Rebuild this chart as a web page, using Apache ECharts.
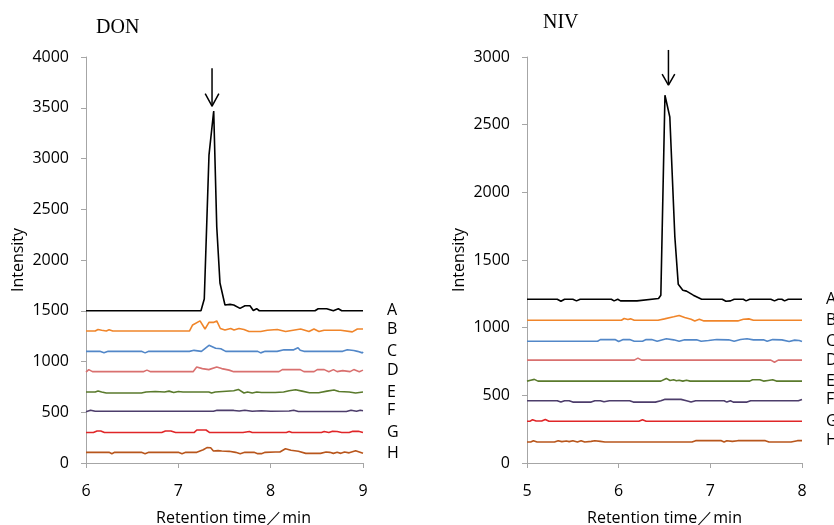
<!DOCTYPE html>
<html><head><meta charset="utf-8">
<script src="https://cdn.jsdelivr.net/npm/echarts@6.0.0/dist/echarts.min.js"></script>
<style>html,body{margin:0;padding:0;background:#fff}#c{width:834px;height:525px}</style>
</head><body><div id="c"></div><script>
// ---------- DATA ----------
const traceNames = ['A','B','C','D','E','F','G','H'];
const donXTicks = [6, 7, 8, 9];
const nivXTicks = [5, 6, 7, 8];

// DON panel: [retention time (min), intensity]
const donA = [[6,1500],[7.245,1500],[7.281,1615],[7.332,3034],[7.383,3468],[7.416,2328],[7.451,1773],[7.505,1557],[7.56,1563],[7.60,1556],[7.668,1523],[7.722,1549],[7.776,1549],[7.812,1503],[7.848,1520],[7.877,1500],[8.48,1500],[8.515,1520],[8.607,1520],[8.679,1500],[8.733,1520],[8.77,1500],[9,1500]];
const donB = [[6,1300],[6.1,1300],[6.13,1315],[6.17,1308],[6.22,1300],[6.25,1312],[6.29,1300],[7.12,1300],[7.155,1360],[7.235,1400],[7.289,1320],[7.332,1385],[7.379,1385],[7.416,1400],[7.455,1325],[7.505,1310],[7.567,1325],[7.603,1310],[7.657,1325],[7.711,1315],[7.765,1295],[7.892,1295],[7.964,1308],[8.072,1315],[8.162,1295],[8.325,1320],[8.415,1295],[8.469,1320],[8.523,1295],[8.578,1308],[8.758,1308],[8.884,1292],[8.939,1320],[9,1320]];
const donC = [[6,1100],[6.15,1100],[6.195,1085],[6.24,1100],[6.6,1100],[6.64,1085],[6.68,1100],[7.12,1100],[7.17,1110],[7.25,1100],[7.332,1160],[7.404,1130],[7.46,1125],[7.513,1100],[7.86,1100],[7.892,1085],[7.94,1100],[8.07,1100],[8.144,1115],[8.25,1115],[8.296,1135],[8.32,1110],[8.36,1100],[8.78,1100],[8.83,1115],[8.9,1108],[8.94,1100],[8.96,1112],[8.993,1085],[9,1095]];
const donD = [[6,895],[6.03,920],[6.07,900],[6.62,900],[6.66,915],[6.7,900],[7.16,900],[7.199,945],[7.26,930],[7.33,920],[7.416,945],[7.47,930],[7.55,915],[7.6,900],[8.09,900],[8.126,920],[8.32,920],[8.36,900],[8.47,900],[8.505,920],[8.58,920],[8.63,900],[8.68,920],[8.72,900],[8.78,910],[8.86,900],[8.9,920],[8.96,900],[9,915]];
const donE = [[6,700],[6.1,700],[6.13,710],[6.17,700],[6.22,690],[6.6,690],[6.65,700],[6.75,705],[6.85,700],[6.9,708],[6.95,695],[7.0,705],[7.05,700],[7.33,700],[7.36,690],[7.4,700],[7.6,712],[7.65,725],[7.711,690],[7.75,700],[7.8,690],[7.85,700],[7.9,695],[8.05,695],[8.14,700],[8.2,712],[8.27,722],[8.34,708],[8.42,692],[8.52,692],[8.61,708],[8.686,720],[8.74,705],[8.85,700],[8.92,690],[9,700]];
const donF = [[6,505],[6.05,520],[6.1,510],[7.38,510],[7.42,520],[7.6,518],[7.66,512],[7.72,520],[7.8,510],[7.9,515],[8.0,510],[8.2,512],[8.25,520],[8.3,508],[8.82,508],[8.87,520],[8.93,510],[8.97,520],[9,515]];
const donG = [[6,300],[6.08,300],[6.12,315],[6.16,315],[6.2,300],[6.82,300],[6.86,315],[6.92,315],[6.97,300],[7.17,300],[7.2,325],[7.3,325],[7.34,300],[7.7,300],[7.72,310],[7.77,310],[7.8,300],[8.17,300],[8.2,310],[8.23,300],[8.55,300],[8.58,310],[8.63,300],[8.67,312],[8.72,310],[8.77,300],[8.85,300],[8.89,312],[8.95,312],[9,300]];
const donH = [[6,105],[6.25,105],[6.28,92],[6.31,105],[6.6,105],[6.64,92],[6.68,105],[7.0,105],[7.04,92],[7.08,105],[7.2,105],[7.27,130],[7.31,152],[7.35,150],[7.38,118],[7.43,122],[7.47,118],[7.55,115],[7.62,105],[7.67,92],[7.72,105],[7.82,105],[7.86,92],[7.9,92],[7.94,105],[8.05,108],[8.1,108],[8.16,140],[8.22,125],[8.3,115],[8.38,95],[8.54,95],[8.6,108],[8.64,105],[8.68,95],[8.72,105],[8.76,95],[8.8,108],[8.85,100],[8.92,120],[8.96,108],[9,95]];

// NIV panel
const nivA = [[5,1210],[5.33,1210],[5.37,1195],[5.41,1210],[5.5,1210],[5.54,1198],[5.58,1210],[5.92,1210],[5.95,1198],[5.99,1210],[6.02,1198],[6.2,1198],[6.22,1210],[6.435,1215],[6.46,1240],[6.505,2717],[6.558,2557],[6.613,1670],[6.65,1320],[6.70,1276],[6.74,1270],[6.814,1240],[6.905,1210],[7.13,1210],[7.17,1195],[7.22,1198],[7.26,1210],[7.36,1210],[7.39,1198],[7.43,1210],[7.66,1210],[7.7,1198],[7.74,1210],[7.78,1210],[7.81,1198],[7.85,1210],[8,1210]];
const nivB = [[5,1055],[6.03,1055],[6.06,1068],[6.1,1060],[6.13,1065],[6.17,1055],[6.43,1055],[6.5,1065],[6.6,1080],[6.66,1090],[6.72,1075],[6.79,1062],[6.83,1050],[6.88,1062],[6.93,1050],[7.3,1050],[7.36,1062],[7.42,1065],[7.47,1055],[8,1055]];
const nivC = [[5,900],[5.77,900],[5.8,912],[5.96,912],[6.0,898],[6.05,912],[6.12,912],[6.17,900],[6.26,900],[6.3,912],[6.36,912],[6.42,900],[6.52,918],[6.6,910],[6.66,900],[6.72,910],[6.85,910],[6.9,900],[6.98,905],[7.07,912],[7.2,910],[7.26,900],[7.33,912],[7.4,918],[7.47,910],[7.58,910],[7.62,900],[7.68,912],[7.78,910],[7.86,898],[7.92,908],[7.97,905],[8,898]];
const nivD = [[5,760],[6.17,760],[6.21,775],[6.25,760],[7.66,760],[7.7,745],[7.74,760],[8,760]];
const nivE = [[5,605],[5.04,612],[5.08,618],[5.12,605],[6.46,605],[6.52,625],[6.56,610],[6.6,615],[6.63,608],[6.66,612],[6.7,605],[6.74,612],[6.78,605],[7.43,605],[7.46,615],[7.54,615],[7.58,605],[7.63,610],[7.68,615],[7.72,605],[8,605]];
const nivF = [[5,460],[5.33,460],[5.37,450],[5.41,460],[5.46,460],[5.5,450],[5.7,450],[5.74,460],[5.8,460],[5.84,452],[5.9,460],[6.12,460],[6.16,450],[6.4,450],[6.46,460],[6.5,470],[6.68,470],[6.74,460],[6.79,450],[6.84,460],[7.15,460],[7.18,450],[7.22,460],[7.25,450],[7.4,450],[7.44,460],[7.96,460],[8,470]];
const nivG = [[5,308],[5.03,308],[5.06,320],[5.1,310],[5.16,310],[5.2,322],[5.24,308],[6.22,308],[6.26,320],[6.3,308],[8,308]];
const nivH = [[5,155],[5.04,155],[5.07,165],[5.11,155],[5.3,155],[5.34,165],[5.38,158],[5.43,163],[5.46,158],[5.5,165],[5.55,155],[5.59,165],[5.63,155],[5.7,160],[5.74,165],[5.8,160],[5.85,155],[6.34,155],[6.36,165],[6.39,155],[6.8,155],[6.84,165],[7.12,165],[7.15,155],[7.18,165],[7.2,155],[7.24,160],[7.3,165],[7.6,165],[7.64,155],[7.88,155],[7.95,165],[8,165]];

// arrows: [time, tail intensity, tip intensity]
const donArrow = [7.365, 3890, 3515];
const nivArrow = [6.543, 3052, 2793];

// ---------- STYLE ----------
const colors = ['#000000','#f0852a','#5287c8','#d9706f','#5a7a2c','#4d3d6b','#e02628','#b8561c'];
const uiFont = '"Open Sans", "Noto Sans", sans-serif';
const uiSize = 16;
const axisGray = '#a6a6a6';

const donSeriesData = [donA, donB, donC, donD, donE, donF, donG, donH];
const nivSeriesData = [nivA, nivB, nivC, nivD, nivE, nivF, nivG, nivH];

function traceSeries(list, idx) {
  return list.map((d, i) => ({
    type: 'line', name: traceNames[i], xAxisIndex: idx, yAxisIndex: idx,
    data: d, symbol: 'none', silent: true, z: 10 - i,
    lineStyle: { color: colors[i], width: 1.6 },
    itemStyle: { color: colors[i] },
    endLabel: { show: true, formatter: traceNames[i], distance: 24,
      color: '#000', fontSize: uiSize, fontFamily: uiFont }
  }));
}
function arrowSeries(a, idx, dx, dy) {
  const st = { color: '#000', width: 1.5 };
  return [
    { type: 'line', xAxisIndex: idx, yAxisIndex: idx, symbol: 'none', silent: true, clip: false,
      data: [[a[0], a[1]], [a[0], a[2]]], lineStyle: st },
    { type: 'line', xAxisIndex: idx, yAxisIndex: idx, symbol: 'none', silent: true, clip: false,
      data: [[a[0] - dx, a[2] + dy], [a[0], a[2]], [a[0] + dx, a[2] + dy]], lineStyle: st }
  ];
}
function xAxisCfg(idx, ticks, namePad) {
  return { type: 'value', gridIndex: idx, min: ticks[0], max: ticks[ticks.length - 1], interval: 1,
    name: 'Retention time／min', nameLocation: 'middle', nameGap: 47,
    nameTextStyle: { fontSize: uiSize, fontFamily: uiFont, color: '#000', padding: [0, 0, 0, namePad] },
    axisLine: { show: true, onZero: false, lineStyle: { color: axisGray, width: 1 } },
    axisTick: { show: true, length: 5, lineStyle: { color: axisGray } },
    axisLabel: { margin: 20, fontSize: uiSize, fontFamily: uiFont, color: '#000' },
    splitLine: { show: false } };
}
function yAxisCfg(idx, max) {
  return { type: 'value', gridIndex: idx, min: 0, max: max, interval: 500,
    name: 'Intensity', nameLocation: 'middle', nameGap: 60,
    nameTextStyle: { fontSize: uiSize, fontFamily: uiFont, color: '#000' },
    axisLine: { show: true, lineStyle: { color: axisGray, width: 1 } },
    axisTick: { show: true, length: 5, lineStyle: { color: axisGray } },
    axisLabel: { margin: 17, fontSize: uiSize, fontFamily: uiFont, color: '#000',
      formatter: v => String(v) },
    splitLine: { show: false } };
}

const chart = echarts.init(document.getElementById('c'), null, { renderer: 'canvas' });
chart.setOption({
  animation: false,
  backgroundColor: '#fff',
  title: [
    { text: 'DON', left: 91, top: 13, textStyle: { fontFamily: '"Liberation Serif", "DejaVu Serif", serif', fontSize: 20, fontWeight: 'normal', color: '#000' } },
    { text: 'NIV', left: 538, top: 8, textStyle: { fontFamily: '"Liberation Serif", "DejaVu Serif", serif', fontSize: 20, fontWeight: 'normal', color: '#000' } }
  ],
  grid: [
    { left: 86, top: 57, width: 277, height: 406, outerBoundsMode: 'none', containLabel: false },
    { left: 527, top: 57, width: 275, height: 406, outerBoundsMode: 'none', containLabel: false }
  ],
  xAxis: [xAxisCfg(0, donXTicks, 18), xAxisCfg(1, nivXTicks, 0)],
  yAxis: [yAxisCfg(0, 4000), yAxisCfg(1, 3000)],
  series: [].concat(
    traceSeries(donSeriesData, 0),
    traceSeries(nivSeriesData, 1),
    arrowSeries(donArrow, 0, 0.074, 125),
    arrowSeries(nivArrow, 1, 0.069, 81)
  )
});
</script></body></html>
